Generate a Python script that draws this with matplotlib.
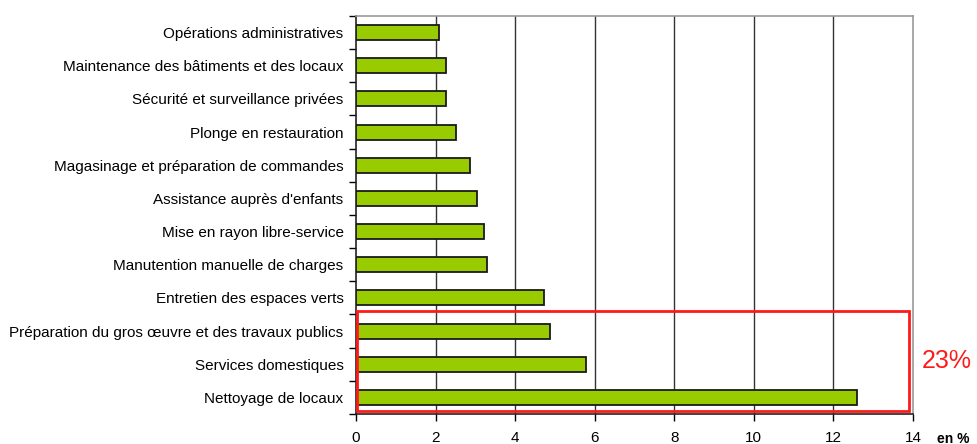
import matplotlib.pyplot as plt
from matplotlib.patches import Rectangle

# donnees (du bas vers le haut)
metiers = ['Nettoyage de locaux', 'Services domestiques',
           'Préparation du gros œuvre et des travaux publics',
           'Entretien des espaces verts', 'Manutention manuelle de charges',
           'Mise en rayon libre-service', "Assistance auprès d'enfants",
           'Magasinage et préparation de commandes', 'Plonge en restauration',
           'Sécurité et surveillance privées',
           'Maintenance des bâtiments et des locaux',
           'Opérations administratives']
valeurs = [12.58, 5.78, 4.87, 4.73, 3.3, 3.22, 3.04, 2.87, 2.52, 2.25, 2.25, 2.09]
xticks = [0, 2, 4, 6, 8, 10, 12, 14]

plt.rcParams['font.family'] = ['Liberation Sans', 'DejaVu Sans']

fig = plt.figure(figsize=(9.77, 4.44), dpi=100)
ax = fig.add_axes([0.3644, 0.0676, 0.5701, 0.8964])

y = range(len(metiers))
ax.barh(y, valeurs, height=0.45, color='#99CC00', edgecolor='#1a1a1a',
        linewidth=1.3, zorder=3)

ax.set_xlim(0, 14)
ax.set_ylim(-0.5, len(metiers) - 0.5)
ax.set_xticks(xticks)
ax.set_xticklabels([str(v) for v in xticks], fontsize=11)
ax.set_yticks(list(y))
ax.set_yticklabels(metiers, fontsize=11)
ax.tick_params(axis='y', length=0, pad=9)
ax.set_yticks([i - 0.5 for i in range(len(metiers) + 1)], minor=True)
ax.tick_params(axis='y', which='minor', length=5, width=1, direction='out')
ax.tick_params(axis='x', length=5, width=1, direction='out', pad=7)

for v in xticks[1:-1]:
    ax.axvline(v, color='#333333', linewidth=1, zorder=1)

ax.spines['left'].set_color('#222222')
ax.spines['bottom'].set_color('#222222')
ax.spines['top'].set_color('#999999')
ax.spines['right'].set_color('#999999')
for s in ax.spines.values():
    s.set_linewidth(1.2)

# cadre rouge autour des trois premiers metiers
rect = Rectangle((0.02, -0.4), 13.87, 3.0, fill=False, edgecolor='#FF1A1A',
                 linewidth=2, zorder=4, clip_on=False)
ax.add_patch(rect)
ax.text(14.85, 1.1, '23%', color='#FF1A1A', fontsize=18,
        ha='center', va='center')

ax.text(14.6, -1.25, 'en %', fontsize=10, fontweight='bold',
        ha='left', va='center')

fig.savefig('out.png', dpi=100)
